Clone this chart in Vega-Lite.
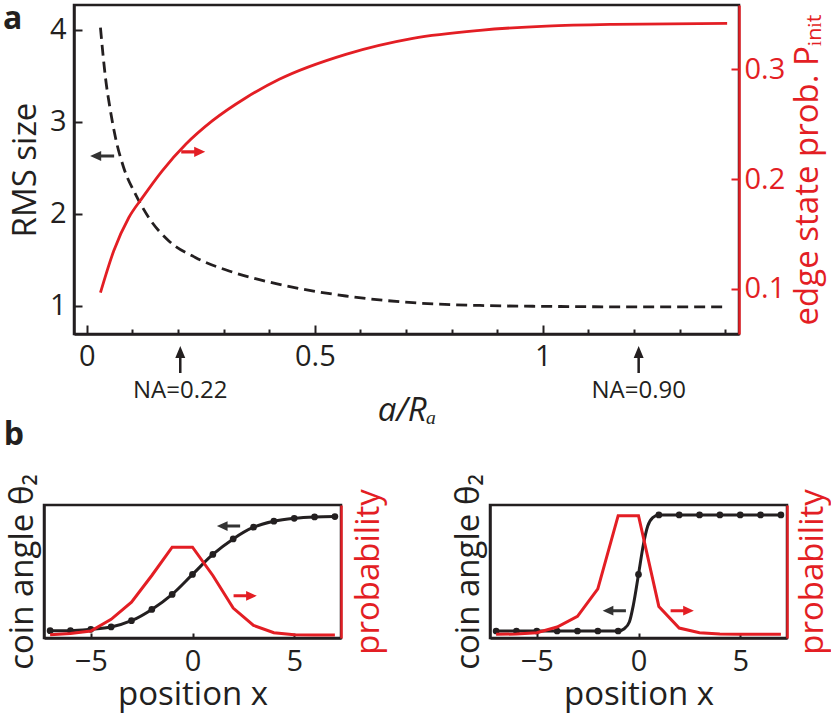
{
  "$schema": "https://vega.github.io/schema/vega-lite/v6.json",
  "padding": {"left": 1, "top": 1, "right": 0, "bottom": 0},
  "config": {
    "view": {"stroke": "#231F20", "strokeWidth": 2.5},
    "font": "Open Sans",
    "axis": {"grid": false, "labelFont": "Open Sans", "labelFontSize": 29, "labelColor": "#231F20", "titleFont": "Open Sans", "titleFontSize": 33, "titleFontWeight": "normal", "titleColor": "#231F20", "domainColor": "#231F20", "domainWidth": 2.5, "tickColor": "#231F20", "tickWidth": 2},
    "title": {"font": "Open Sans", "fontSize": 32, "fontWeight": "bold", "color": "#231F20", "anchor": "start"}
  },
  "columns": 1,
  "align": "none",
  "spacing": -10,
  "concat": [
    {
      "spacing": -45,
      "hconcat": [
        {
          "width": 1,
          "height": 1,
          "view": {"stroke": "transparent", "fill": null},
          "data": {"values": []},
          "mark": "point"
        },
        {
          "width": 665,
          "height": 329,
          "title": {"text": "a", "frame": "group", "dx": -71, "baseline": "top", "offset": -30.5},
          "layer": [
            {
              "layer": [
                {
                  "data": {"values": [
                    {"a": 0.030, "rms": 4.023}, {"a": 0.041, "rms": 3.48}, {"a": 0.052, "rms": 3.118}, {"a": 0.063, "rms": 2.828},
                    {"a": 0.081, "rms": 2.502}, {"a": 0.107, "rms": 2.213}, {"a": 0.136, "rms": 1.959}, {"a": 0.180, "rms": 1.706},
                    {"a": 0.239, "rms": 1.524}, {"a": 0.312, "rms": 1.380}, {"a": 0.415, "rms": 1.242}, {"a": 0.568, "rms": 1.108},
                    {"a": 0.715, "rms": 1.035}, {"a": 0.862, "rms": 1.005}, {"a": 1.008, "rms": 0.995}, {"a": 1.2, "rms": 0.99}, {"a": 1.404, "rms": 0.99}
                  ]},
                  "mark": {"type": "line", "color": "#231F20", "strokeWidth": 2.8, "strokeDash": [11, 6], "interpolate": "monotone"},
                  "encoding": {
                    "x": {"field": "a", "type": "quantitative", "title": "a/Rₐ",
                      "scale": {"domain": [-0.028, 1.43], "nice": false, "zero": false},
                      "axis": {
                        "values": [0, 0.1, 0.2, 0.3, 0.4, 0.5, 0.6, 0.7, 0.8, 0.9, 1, 1.1, 1.2, 1.3, 1.4],
                        "labelExpr": "datum.value == 0 ? '0' : datum.value == 0.5 ? '0.5' : datum.value == 1 ? '1' : ''",
                        "tickSize": {"condition": {"test": "datum.value == 0 || datum.value == 0.5 || datum.value == 1", "value": -9}, "value": -5},
                        "labelPadding": 17, "titleFontStyle": "italic", "titlePadding": 23
                      }},
                    "y": {"field": "rms", "type": "quantitative", "title": "RMS size",
                      "scale": {"domain": [0.695, 4.27], "nice": false, "zero": false},
                      "axis": {"values": [1, 2, 3, 4], "format": "d", "tickSize": -8, "labelPadding": 16, "titlePadding": 7}}
                  }
                },
                {
                  "data": {"values": [{"a": 0.0337, "rms": 2.629}]},
                  "mark": {"type": "point", "shape": "M-1,0L-0.08,-0.42L-0.08,-0.13L1,-0.13L1,0.13L-0.08,0.13L-0.08,0.42Z", "size": 576, "filled": true, "opacity": 1, "color": "#333333", "strokeWidth": 0},
                  "encoding": {
                    "x": {"field": "a", "type": "quantitative", "title": "a/Rₐ"},
                    "y": {"field": "rms", "type": "quantitative", "title": "RMS size"}
                  }
                },
                {
                  "data": {"values": [{"a": 0.205, "label": "NA=0.22"}, {"a": 1.21, "label": "NA=0.90"}]},
                  "layer": [
                    {
                      "mark": {"type": "point", "shape": "M-1,0L-0.111,-0.37L-0.111,-0.093L1,-0.093L1,0.093L-0.111,0.093L-0.111,0.37Z", "size": 729, "angle": 90, "filled": true, "opacity": 1, "color": "#231F20", "strokeWidth": 0},
                      "encoding": {
                        "x": {"field": "a", "type": "quantitative", "title": "a/Rₐ"},
                        "y": {"datum": 0.418}
                      }
                    },
                    {
                      "mark": {"type": "text", "font": "Open Sans", "fontSize": 24, "color": "#231F20", "baseline": "middle", "align": "center"},
                      "encoding": {
                        "x": {"field": "a", "type": "quantitative", "title": "a/Rₐ"},
                        "y": {"datum": 0.076},
                        "text": {"field": "label"}
                      }
                    }
                  ]
                }
              ]
            },
            {
              "layer": [
                {
                  "data": {"values": [
                    {"a": 0.030, "p": 0.0963}, {"a": 0.059, "p": 0.1343}, {"a": 0.092, "p": 0.1647}, {"a": 0.122, "p": 0.183},
                    {"a": 0.165, "p": 0.2073}, {"a": 0.217, "p": 0.2317}, {"a": 0.275, "p": 0.253}, {"a": 0.349, "p": 0.2742},
                    {"a": 0.422, "p": 0.291}, {"a": 0.568, "p": 0.3138}, {"a": 0.715, "p": 0.3284}, {"a": 0.862, "p": 0.3357},
                    {"a": 1.008, "p": 0.3396}, {"a": 1.155, "p": 0.3412}, {"a": 1.404, "p": 0.3421}
                  ]},
                  "mark": {"type": "line", "color": "#E31E24", "strokeWidth": 2.8, "interpolate": "monotone"},
                  "encoding": {
                    "x": {"field": "a", "type": "quantitative", "title": "a/Rₐ"},
                    "y": {"field": "p", "type": "quantitative", "title": "edge state prob. Pᵢₙᵢₜ",
                      "scale": {"domain": [0.0586, 0.3588], "nice": false, "zero": false},
                      "axis": {"orient": "right", "values": [0.1, 0.2, 0.3], "format": ".1f", "tickSize": -8, "labelPadding": 13,
                        "labelColor": "#E31E24", "tickColor": "#E31E24", "domainColor": "#E31E24", "titleColor": "#E31E24",
                        "titleAngle": -90, "titleBaseline": "top", "titlePadding": 7}}
                  }
                },
                {
                  "data": {"values": [{"a": 0.2334, "p": 0.2248}]},
                  "mark": {"type": "point", "shape": "M-1,0L-0.08,-0.42L-0.08,-0.13L1,-0.13L1,0.13L-0.08,0.13L-0.08,0.42Z", "size": 576, "angle": 180, "filled": true, "opacity": 1, "color": "#E31E24", "strokeWidth": 0},
                  "encoding": {
                    "x": {"field": "a", "type": "quantitative", "title": "a/Rₐ"},
                    "y": {"field": "p", "type": "quantitative", "title": "edge state prob. Pᵢₙᵢₜ"}
                  }
                }
              ]
            }
          ],
          "resolve": {"scale": {"y": "independent"}}
        }
      ]
    },
    {
      "title": {"text": "b", "frame": "bounds", "dx": -1, "baseline": "bottom", "offset": -12},
      "spacing": 63,
      "hconcat": [
        {
          "width": 297,
          "height": 133,
          "data": {"values": [
            {"x": -7, "theta": 0.055, "prob": 0.025}, {"x": -6, "theta": 0.055, "prob": 0.033}, {"x": -5, "theta": 0.065, "prob": 0.053},
            {"x": -4, "theta": 0.083, "prob": 0.14}, {"x": -3, "theta": 0.13, "prob": 0.27}, {"x": -2, "theta": 0.215, "prob": 0.47},
            {"x": -1, "theta": 0.328, "prob": 0.683}, {"x": 0, "theta": 0.478, "prob": 0.683}, {"x": 1, "theta": 0.628, "prob": 0.47},
            {"x": 2, "theta": 0.745, "prob": 0.225}, {"x": 3, "theta": 0.833, "prob": 0.095}, {"x": 4, "theta": 0.878, "prob": 0.04},
            {"x": 5, "theta": 0.90, "prob": 0.025}, {"x": 6, "theta": 0.91, "prob": 0.0225}, {"x": 7, "theta": 0.913, "prob": 0.0225}
          ]},
          "layer": [
            {
              "layer": [
                {
                  "mark": {"type": "line", "color": "#231F20", "strokeWidth": 3, "interpolate": "monotone"},
                  "encoding": {
                    "x": {"field": "x", "type": "quantitative", "title": "position x",
                      "scale": {"domain": [-7.3, 7.3], "nice": false, "zero": false},
                      "axis": {"values": [-5, 0, 5], "tickSize": -5, "labelPadding": 14, "titlePadding": 2}},
                    "y": {"field": "theta", "type": "quantitative", "title": "coin angle θ₂",
                      "scale": {"domain": [0, 1], "nice": false, "zero": false},
                      "axis": {"labels": false, "ticks": false, "titlePadding": 5}}
                  }
                },
                {
                  "mark": {"type": "point", "filled": true, "size": 45, "opacity": 1, "color": "#231F20", "strokeWidth": 0},
                  "encoding": {
                    "x": {"field": "x", "type": "quantitative", "title": "position x"},
                    "y": {"field": "theta", "type": "quantitative", "title": "coin angle θ₂"}
                  }
                },
                {
                  "data": {"values": [{"x": 1.77, "theta": 0.842}]},
                  "mark": {"type": "point", "shape": "M-1,0L-0.08,-0.42L-0.08,-0.13L1,-0.13L1,0.13L-0.08,0.13L-0.08,0.42Z", "size": 540, "filled": true, "opacity": 1, "color": "#333333", "strokeWidth": 0},
                  "encoding": {
                    "x": {"field": "x", "type": "quantitative", "title": "position x"},
                    "y": {"field": "theta", "type": "quantitative", "title": "coin angle θ₂"}
                  }
                }
              ]
            },
            {
              "layer": [
                {
                  "mark": {"type": "line", "color": "#E31E24", "strokeWidth": 3},
                  "encoding": {
                    "x": {"field": "x", "type": "quantitative", "title": "position x"},
                    "y": {"field": "prob", "type": "quantitative", "title": "probability",
                      "scale": {"domain": [0, 1], "nice": false, "zero": false},
                      "axis": {"orient": "right", "labels": false, "ticks": false, "domainColor": "#E31E24", "titleColor": "#E31E24", "titleAngle": -90, "titleBaseline": "top", "titlePadding": 11}}
                  }
                },
                {
                  "data": {"values": [{"x": 2.59, "prob": 0.317}]},
                  "mark": {"type": "point", "shape": "M-1,0L-0.08,-0.42L-0.08,-0.13L1,-0.13L1,0.13L-0.08,0.13L-0.08,0.42Z", "size": 540, "angle": 180, "filled": true, "opacity": 1, "color": "#E31E24", "strokeWidth": 0},
                  "encoding": {
                    "x": {"field": "x", "type": "quantitative", "title": "position x"},
                    "y": {"field": "prob", "type": "quantitative", "title": "probability"}
                  }
                }
              ]
            }
          ],
          "resolve": {"scale": {"y": "independent"}}
        },
        {
          "width": 297,
          "height": 133,
          "data": {"values": [
            {"x": -7, "theta": 0.0525, "prob": 0.0275}, {"x": -6, "theta": 0.0525, "prob": 0.03}, {"x": -5, "theta": 0.0525, "prob": 0.04},
            {"x": -4, "theta": 0.0525, "prob": 0.0825}, {"x": -3, "theta": 0.0525, "prob": 0.1625}, {"x": -2, "theta": 0.0525, "prob": 0.37},
            {"x": -1, "theta": 0.0525, "prob": 0.92}, {"x": 0, "theta": 0.478, "prob": 0.92}, {"x": 1, "theta": 0.925, "prob": 0.2375},
            {"x": 2, "theta": 0.925, "prob": 0.075}, {"x": 3, "theta": 0.925, "prob": 0.04}, {"x": 4, "theta": 0.925, "prob": 0.03},
            {"x": 5, "theta": 0.925, "prob": 0.0275}, {"x": 6, "theta": 0.925, "prob": 0.0275}, {"x": 7, "theta": 0.925, "prob": 0.0275}
          ]},
          "layer": [
            {
              "layer": [
                {
                  "data": {"values": [
                    {"x": -7, "theta": 0.0525}, {"x": -1, "theta": 0.0525}, {"x": -0.7, "theta": 0.07}, {"x": -0.45, "theta": 0.12},
                    {"x": -0.25, "theta": 0.25}, {"x": 0, "theta": 0.478}, {"x": 0.25, "theta": 0.71}, {"x": 0.45, "theta": 0.84},
                    {"x": 0.7, "theta": 0.905}, {"x": 1, "theta": 0.925}, {"x": 7, "theta": 0.925}
                  ]},
                  "mark": {"type": "line", "color": "#231F20", "strokeWidth": 3, "interpolate": "monotone"},
                  "encoding": {
                    "x": {"field": "x", "type": "quantitative", "title": "position x",
                      "scale": {"domain": [-7.3, 7.3], "nice": false, "zero": false},
                      "axis": {"values": [-5, 0, 5], "tickSize": -5, "labelPadding": 14, "titlePadding": 2}},
                    "y": {"field": "theta", "type": "quantitative", "title": "coin angle θ₂",
                      "scale": {"domain": [0, 1], "nice": false, "zero": false},
                      "axis": {"labels": false, "ticks": false, "titlePadding": 5}}
                  }
                },
                {
                  "mark": {"type": "point", "filled": true, "size": 45, "opacity": 1, "color": "#231F20", "strokeWidth": 0},
                  "encoding": {
                    "x": {"field": "x", "type": "quantitative", "title": "position x"},
                    "y": {"field": "theta", "type": "quantitative", "title": "coin angle θ₂"}
                  }
                },
                {
                  "data": {"values": [{"x": -1.19, "theta": 0.205}]},
                  "mark": {"type": "point", "shape": "M-1,0L-0.08,-0.42L-0.08,-0.13L1,-0.13L1,0.13L-0.08,0.13L-0.08,0.42Z", "size": 540, "filled": true, "opacity": 1, "color": "#333333", "strokeWidth": 0},
                  "encoding": {
                    "x": {"field": "x", "type": "quantitative", "title": "position x"},
                    "y": {"field": "theta", "type": "quantitative", "title": "coin angle θ₂"}
                  }
                }
              ]
            },
            {
              "layer": [
                {
                  "mark": {"type": "line", "color": "#E31E24", "strokeWidth": 3},
                  "encoding": {
                    "x": {"field": "x", "type": "quantitative", "title": "position x"},
                    "y": {"field": "prob", "type": "quantitative", "title": "probability",
                      "scale": {"domain": [0, 1], "nice": false, "zero": false},
                      "axis": {"orient": "right", "labels": false, "ticks": false, "domainColor": "#E31E24", "titleColor": "#E31E24", "titleAngle": -90, "titleBaseline": "top", "titlePadding": 9}}
                  }
                },
                {
                  "data": {"values": [{"x": 2.15, "prob": 0.205}]},
                  "mark": {"type": "point", "shape": "M-1,0L-0.08,-0.42L-0.08,-0.13L1,-0.13L1,0.13L-0.08,0.13L-0.08,0.42Z", "size": 540, "angle": 180, "filled": true, "opacity": 1, "color": "#E31E24", "strokeWidth": 0},
                  "encoding": {
                    "x": {"field": "x", "type": "quantitative", "title": "position x"},
                    "y": {"field": "prob", "type": "quantitative", "title": "probability"}
                  }
                }
              ]
            }
          ],
          "resolve": {"scale": {"y": "independent"}}
        }
      ]
    }
  ]
}
